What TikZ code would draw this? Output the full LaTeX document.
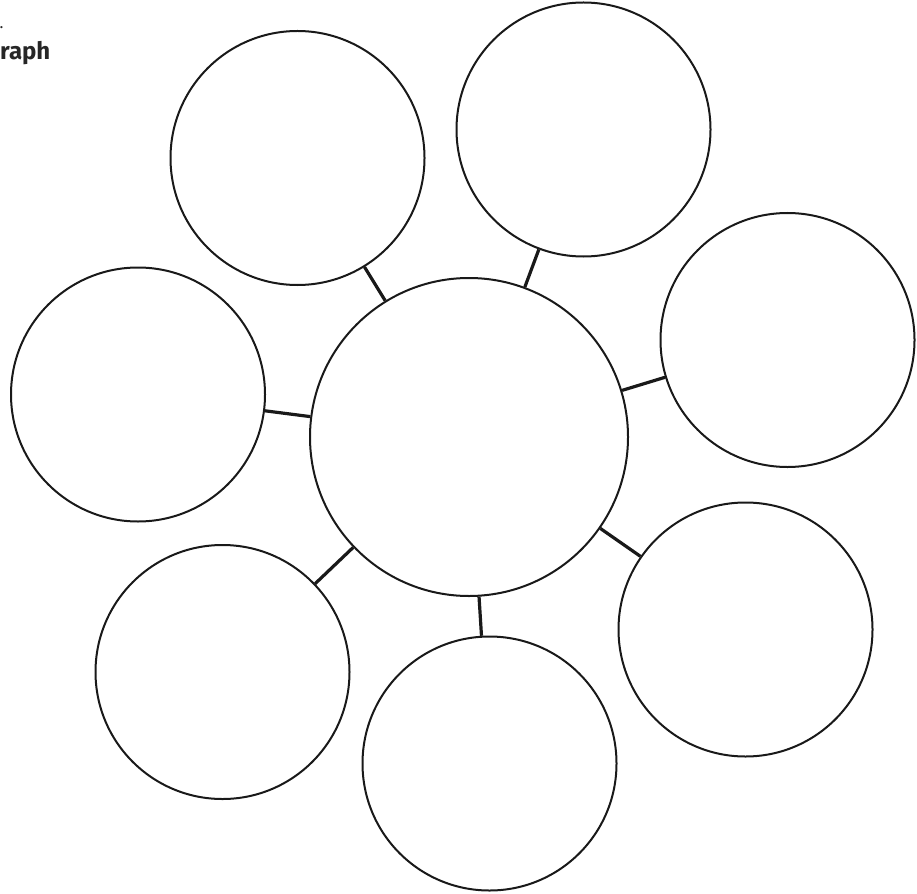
\documentclass[tikz,border=0pt]{standalone}
\usepackage{fontspec}
\setmainfont{Fira Sans}
\begin{document}
\begin{tikzpicture}[x=1pt,y=-1pt,
  bubble/.style={draw=black!90,line width=2pt,circle,minimum size=#1,inner sep=0pt},
  link/.style={draw=black!90,line width=3.2pt},
  lbl/.style={font=\bfseries\fontsize{24}{28}\selectfont,inner sep=0pt,anchor=base west,text=black!85}]
\useasboundingbox (0,0) rectangle (917,893);
\node[lbl] (title) at (0,60) {raph};
\node[lbl,font=\bfseries\fontsize{12}{14}\selectfont] (title0) at (0,29) {.};
\node[bubble=318pt] (c) at (469,437) {};
\node[bubble=254pt] (tl) at (297.5,158) {};
\node[bubble=254pt] (tr) at (583.5,129.5) {};
\node[bubble=254pt] (r) at (787.5,340) {};
\node[bubble=254pt] (l) at (138,394.5) {};
\node[bubble=254pt] (bl) at (222.5,672) {};
\node[bubble=254pt] (b) at (489.5,763.5) {};
\node[bubble=254pt] (br) at (745.5,629.5) {};
\foreach \n in {tl,tr,r,l,bl,b,br}{
  \draw[link] (c) -- (\n);
}
\end{tikzpicture}
\end{document}
